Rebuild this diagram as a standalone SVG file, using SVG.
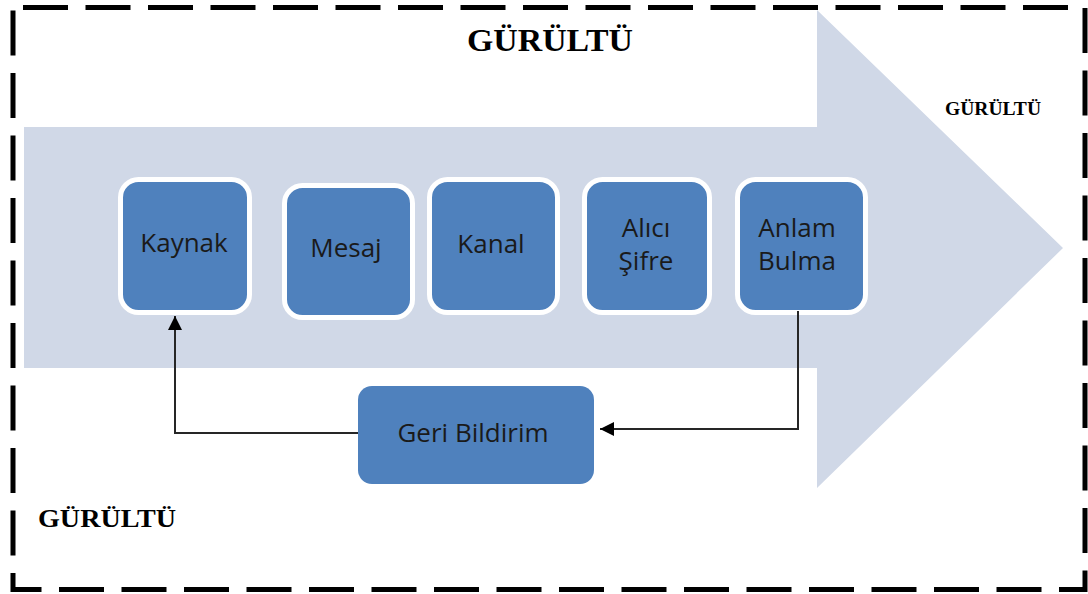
<svg xmlns="http://www.w3.org/2000/svg" width="1088" height="594" viewBox="0 0 1088 594">
<defs>
<style>
.box{fill:#4F81BD;stroke:#FFFFFF;stroke-width:5}
.fb{fill:#4F81BD}
.lbl{font-family:"Open Sans","Liberation Sans",sans-serif;font-size:26px;fill:#1a1a1a;text-anchor:middle}
.noise{font-family:"Liberation Serif","Times New Roman",serif;font-weight:bold;fill:#000}
.conn{fill:none;stroke:#262626;stroke-width:2}
</style>
<marker id="ah" viewBox="0 0 10 10" refX="10" refY="5" markerWidth="14" markerHeight="14" markerUnits="userSpaceOnUse" orient="auto">
<path d="M0,0 L10,5 L0,10 z" fill="#000"/>
</marker>
</defs>
<rect width="1088" height="594" fill="#fff"/>
<g id="border">
<rect x="13" y="7.5" width="1072" height="582" fill="none" stroke="#000" stroke-width="5" stroke-dasharray="45 17.5" stroke-dashoffset="-10"/>
</g>
<g id="big-arrow">
<polygon points="24,127 817,127 817,10 1063,248 817,488 817,368 24,368" fill="#D0D8E7"/>
</g>
<g id="kaynak">
<rect class="box" x="120.5" y="179.5" width="129" height="133" rx="18"/>
<text class="lbl" x="184" y="252">Kaynak</text>
</g>
<g id="mesaj">
<rect class="box" x="284.5" y="185.5" width="128" height="132" rx="18"/>
<text class="lbl" x="346" y="257">Mesaj</text>
</g>
<g id="kanal">
<rect class="box" x="429.5" y="179.5" width="128" height="133" rx="18"/>
<text class="lbl" x="491" y="253">Kanal</text>
</g>
<g id="alici-sifre">
<rect class="box" x="584.5" y="179.5" width="125" height="133" rx="18"/>
<text class="lbl" x="646" y="237">Alıcı</text>
<text class="lbl" x="646" y="270">Şifre</text>
</g>
<g id="anlam-bulma">
<rect class="box" x="737.5" y="179.5" width="128" height="133" rx="18"/>
<text class="lbl" x="797" y="237">Anlam</text>
<text class="lbl" x="797" y="270">Bulma</text>
</g>
<g id="geri-bildirim">
<rect class="fb" x="358" y="386" width="236" height="98" rx="14"/>
<text class="lbl" x="473" y="442">Geri Bildirim</text>
</g>
<g id="connectors">
<polyline class="conn" points="798,311 798,429 600,429" marker-end="url(#ah)"/>
<polyline class="conn" points="358,433 175,433 175,316" marker-end="url(#ah)"/>
</g>
<g id="noise-labels">
<text class="noise" x="467" y="51" font-size="32" textLength="166" lengthAdjust="spacingAndGlyphs">GÜRÜLTÜ</text>
<text class="noise" x="945" y="115" font-size="19" textLength="96" lengthAdjust="spacingAndGlyphs">GÜRÜLTÜ</text>
<text class="noise" x="38" y="527" font-size="25" textLength="138" lengthAdjust="spacingAndGlyphs">GÜRÜLTÜ</text>
</g>
</svg>
